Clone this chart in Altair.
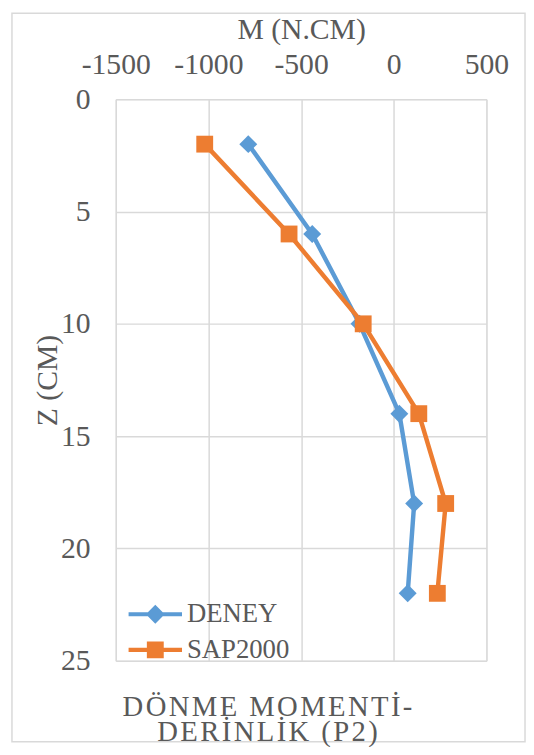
import altair as alt
import pandas as pd

# ---- data ----
depth = [2, 6, 10, 14, 18, 22]
deney = [-785, -440, -185, 30, 110, 75]
sap2000 = [-1020, -565, -165, 135, 280, 235]
series_names = ["DENEY", "SAP2000"]
series_colors = ["#5B9BD5", "#ED7D31"]
x_ticks = [-1500, -1000, -500, 0, 500]
y_ticks = [0, 5, 10, 15, 20, 25]
title_lines = ["DÖNME MOMENTİ-", "DERİNLİK (P2)"]

rows = []
for i, z in enumerate(depth):
    rows.append({"series": series_names[0], "z": z, "m": deney[i], "order": i})
    rows.append({"series": series_names[1], "z": z, "m": sap2000[i], "order": i})
df = pd.DataFrame(rows)

FONT = "Liberation Serif"
GRAY = "#595959"
GRID = "#d9d9d9"
W, H = 375, 568

x_enc = alt.X(
    "m:Q",
    scale=alt.Scale(domain=[-1500, 500], nice=False, zero=False),
    axis=alt.Axis(
        orient="top", values=x_ticks, grid=True, gridColor=GRID, gridWidth=1.5,
        domain=False, ticks=False, tickSize=0, labelFlush=False, labelOverlap=False,
        labelExpr="'' + datum.value",
        labelFont=FONT, labelFontSize=30, labelColor=GRAY, labelPadding=26,
        labelBaseline="alphabetic",
        title="M (N.CM)", titleFont=FONT, titleFontSize=30, titleFontWeight="normal",
        titleColor=GRAY, titleY=-61, titleX=W / 2, titleBaseline="alphabetic",
        titleAlign="center",
    ),
)
y_enc = alt.Y(
    "z:Q",
    scale=alt.Scale(domain=[0, 25], reverse=True, nice=False, zero=False),
    axis=alt.Axis(
        orient="left", values=y_ticks, grid=True, gridColor=GRID, gridWidth=1.5,
        domain=False, ticks=False, tickSize=0, labelFlush=False, labelOverlap=False,
        labelExpr="'' + datum.value",
        labelFont=FONT, labelFontSize=30, labelColor=GRAY, labelPadding=26,
        labelBaseline="middle",
        title="Z (CM)", titleFont=FONT, titleFontSize=30, titleFontWeight="normal",
        titleColor=GRAY, titleX=-69, titleY=H / 2, titleAngle=270,
        titleBaseline="middle", titleAlign="center",
    ),
)

base = alt.Chart(df)
marker_shapes = ["diamond", "square"]
marker_sizes = [330, 290]

layers = []
for name, col in zip(series_names, series_colors):
    layers.append(
        base.transform_filter(alt.datum.series == name)
        .mark_line(strokeWidth=4.5, strokeJoin="round", strokeCap="round", color=col)
        .encode(x=x_enc, y=y_enc, order=alt.Order("order:Q"))
    )
for name, col, shp, sz in zip(series_names, series_colors, marker_shapes, marker_sizes):
    layers.append(
        base.transform_filter(alt.datum.series == name)
        .mark_point(shape=shp, filled=True, size=sz, opacity=1, color=col)
        .encode(x=x_enc, y=y_enc)
    )

# legend symbols: line with marker in the middle (custom paths)
path_d = "M-1.93,-0.15H1.93V0.15H-1.93Z M0,-0.68L0.68,0L0,0.68L-0.68,0Z"
path_s = "M-1.93,-0.15H1.93V0.15H-1.93Z M-0.61,-0.61H0.61V0.61H-0.61Z"
leg = alt.Legend(
    title=None, orient="none", legendX=26, legendY=507, padding=0,
    symbolSize=784, symbolStrokeWidth=0, symbolOpacity=1,
    labelFont=FONT, labelFontSize=27, labelColor=GRAY, labelOffset=18,
    rowPadding=9,
)
legend_layer = base.transform_filter("false").mark_point(filled=True, opacity=1).encode(
    x=x_enc, y=y_enc,
    color=alt.Color("series:N", scale=alt.Scale(domain=series_names, range=series_colors), legend=leg),
    shape=alt.Shape("series:N", scale=alt.Scale(domain=series_names, range=[path_d, path_s]), legend=leg),
)

border = alt.Chart(pd.DataFrame({"k": [0]})).mark_rect(
    fill="white", fillOpacity=0, stroke=GRID, strokeWidth=1.5, clip=False
).encode(x=alt.value(-105), x2=alt.value(414), y=alt.value(-87), y2=alt.value(650))

hair = "\u200a"
chart = alt.layer(border, *layers, legend_layer).properties(
    width=W, height=H,
    autosize=alt.AutoSizeParams(type="none"),
    padding={"left": 109, "top": 88, "right": 40, "bottom": 83},
    title=alt.TitleParams(
        text=[hair.join(t) for t in title_lines], orient="bottom", anchor="middle",
        frame="group", dx=-34, offset=-50, fontSize=29, font=FONT, color=GRAY,
        fontWeight="normal", lineHeight=25, baseline="top",
    ),
).configure_view(stroke=None).configure(background="white")

chart.save("out.html", embed_options={"renderer": "svg", "actions": False})
